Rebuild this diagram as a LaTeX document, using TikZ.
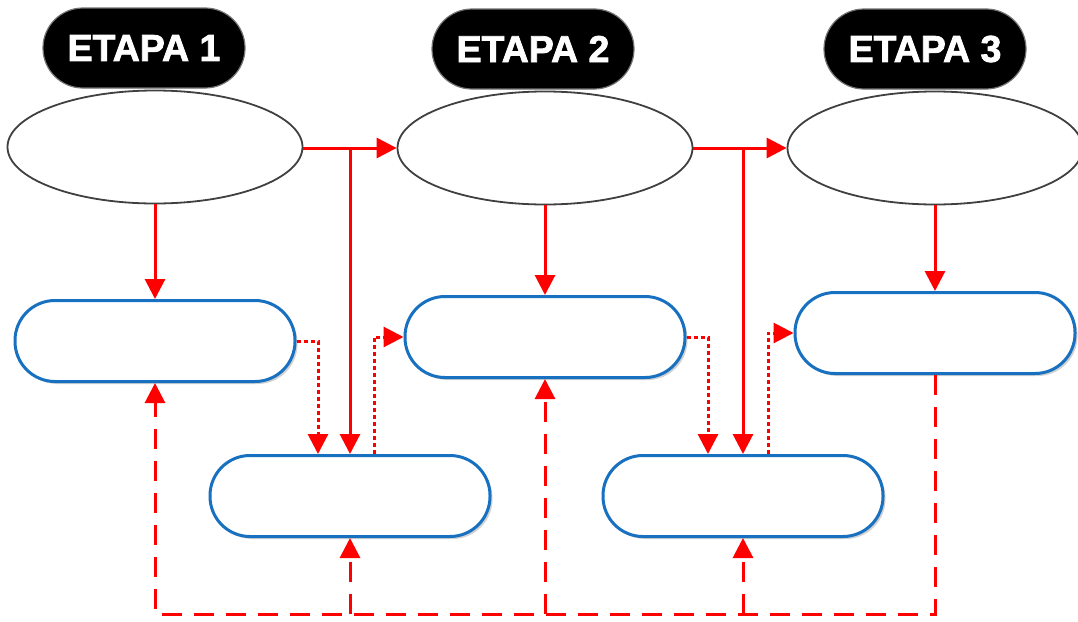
\documentclass[tikz,border=0pt]{standalone}
\usepackage{fontspec}
\setmainfont{Liberation Sans}
\newfontfamily\heavyfont{Liberation Sans Bold}[FakeBold=2]
\usetikzlibrary{shapes.geometric,arrows.meta,shadows,calc}
\definecolor{boxblue}{RGB}{23,112,192}
\definecolor{ellgray}{RGB}{64,64,64}
\begin{document}
\begin{tikzpicture}[x=1pt,y=-1pt,
  etapa/.style={rectangle,rounded corners=40pt,fill=black,draw=black!55,line width=1.2pt,
    minimum width=202pt,minimum height=80pt,text=white,font=\heavyfont\fontsize{37.5}{40}\selectfont},
  ell/.style={ellipse,draw=ellgray,line width=1.8pt,fill=white,minimum width=295pt,minimum height=113pt,inner sep=0pt},
  pill/.style={rectangle,rounded corners=40pt,draw=boxblue,line width=3pt,fill=white,
    minimum width=280pt,minimum height=81pt,inner sep=0pt,
    drop shadow={shadow xshift=2.5pt,shadow yshift=-2.5pt,fill=black!18,opacity=1}},
  tip/.style={-{Triangle[length=20pt,width=20pt]}},
  solidln/.style={red,line width=3pt,tip},
  dotln/.style={red,line width=3pt,dash pattern=on 4pt off 3pt,tip},
  dashln/.style={red,line width=3pt,dash pattern=on 20pt off 12pt}
]
\useasboundingbox (0,0) rectangle (1078,621);
\fill[white] (0,0) rectangle (1078,621);
% stage labels
\node[etapa] (t1) at (144,48) {ETAPA 1};
\node[etapa] (t2) at (533,49) {ETAPA 2};
\node[etapa] (t3) at (925,49) {ETAPA 3};
% ellipses
\node[ell] (e1) at (155,147) {};
\node[ell] (e2) at (545,148) {};
\node[ell] (e3) at (935,148) {};
% upper boxes
\node[pill] (b1) at (155,341) {};
\node[pill] (b2) at (545,337) {};
\node[pill] (b3) at (935,333) {};
% lower boxes
\node[pill] (la) at (350,496) {};
\node[pill] (lb) at (743,496) {};
\coordinate (bot) at (545,614);
% solid connectors
\draw[solidln] (e1.south) -- (b1.north);
\draw[solidln] (e2.south) -- (b2.north);
\draw[solidln] (e3.south) -- (b3.north);
\draw[solidln] (e1.east |- e2.west) -- (e2.west);
\draw[solidln] (e2.east) -- (e3.west);
\draw[solidln] (la.north |- e2.west) -- (la.north);
\draw[solidln] (lb.north |- e2.east) -- (lb.north);
% dotted connectors
\draw[dotln] (b1.east) -| ([xshift=-32pt]la.north);
\draw[dotln] ([xshift=24pt]la.north) |- (b2.west);
\draw[dotln] (b2.east) -| ([xshift=-35pt]lb.north);
\draw[dotln] ([xshift=25pt]lb.north) |- (b3.west);
% dashed feedback
\draw[dashln] (b3.south) -- (b3.south |- bot) -- (b1.south |- bot) -- ($(b1.south)+(0,22)$);
\draw[red,line width=3pt,tip] ($(b1.south)+(0,24)$) -- (b1.south);
\draw[dashln,tip] (la.south |- bot) -- (la.south);
\draw[dashln,tip] (b2.south |- bot) -- (b2.south);
\draw[dashln,tip] (lb.south |- bot) -- (lb.south);
\end{tikzpicture}
\end{document}
